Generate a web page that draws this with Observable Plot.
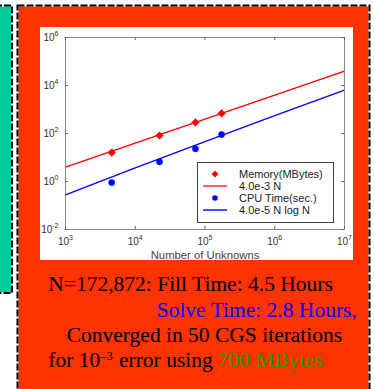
<!DOCTYPE html>
<html><head><meta charset="utf-8">
<script src="https://cdn.jsdelivr.net/npm/d3@7"></script>
<script src="https://cdn.jsdelivr.net/npm/@observablehq/plot@0.6"></script>
<style>
html,body{margin:0;padding:0;background:#fff;}
#page{position:relative;width:374px;height:389px;overflow:hidden;background:#fff;}
#deco{position:absolute;left:0;top:0;}
#panel{position:absolute;left:40px;top:27px;width:313px;height:233px;background:#fff;}
#legend{position:absolute;left:0;top:0;pointer-events:none;}
</style></head><body>
<div id="page">
<svg id="deco" width="374" height="389"></svg>
<div id="panel"></div>
<svg id="legend" width="374" height="389"></svg>
</div>
<script>
// ---- data ----
const N = [4600, 22300, 73000, 172872];
const memoryMB = [16, 83, 290, 690];
const cpuSec = [0.9, 6.6, 23, 91];
const fitN = [1e3, 1e4, 1e5, 1e6, 1e7];
const memFit = [4, 40, 400, 4000, 40000];
const cpuFit = [0.276, 3.68, 46.1, 553, 6447];
const xTicks = [1e3, 1e4, 1e5, 1e6, 1e7];
const yTicks = [1e-2, 1e0, 1e2, 1e4, 1e6];
const legendLabels = ["Memory(MBytes)", "4.0e-3 N", "CPU Time(sec.)", "4.0e-5 N log N"];
const xLabel = "Number of Unknowns";
const captionLines = [
  "N=172,872: Fill Time: 4.5 Hours",
  "Solve Time: 2.8 Hours,",
  "Converged in 50 CGS iterations"
];

const memPts = N.map((n, i) => ({n, v: memoryMB[i]}));
const cpuPts = N.map((n, i) => ({n, v: cpuSec[i]}));
const memLine = fitN.map((n, i) => ({n, v: memFit[i]}));
const cpuLine = fitN.map((n, i) => ({n, v: cpuFit[i]}));

const W = 313, H = 233, mL = 25, mR = 9, mT = 10, mB = 31;
const innerW = W - mL - mR, innerH = H - mT - mB;
const fmt = d => "10^" + Math.round(Math.log10(d));

const chart = Plot.plot({
  width: W, height: H,
  marginLeft: mL, marginRight: mR, marginTop: mT, marginBottom: mB,
  style: {background: "#fff", fontFamily: "'Liberation Sans', Arial, sans-serif", fontSize: "10px", color: "#333"},
  x: {type: "log", domain: [1e3, 1e7]},
  y: {type: "log", domain: [1e-2, 1e6]},
  marks: [
    Plot.line(memLine, {x: "n", y: "v", stroke: "#ff0000", strokeWidth: 1.4}),
    Plot.line(cpuLine, {x: "n", y: "v", stroke: "#0000ff", strokeWidth: 1.4}),
    Plot.dot(memPts, {x: "n", y: "v", symbol: "diamond2", r: 3.4, fill: "#ff0000", stroke: "#ff0000", strokeWidth: 0.6}),
    Plot.dot(cpuPts, {x: "n", y: "v", symbol: "circle", r: 3.1, fill: "#0000ff", stroke: "#0000ff", strokeWidth: 0.5}),
    Plot.frame({stroke: "#8a8a8a"}),
    Plot.tickX(xTicks, {x: d => d, insetTop: innerH - 3, stroke: "#666"}),
    Plot.tickX(xTicks, {x: d => d, insetBottom: innerH - 3, stroke: "#666"}),
    Plot.tickY(yTicks, {y: d => d, insetRight: innerW - 3, stroke: "#666"}),
    Plot.tickY(yTicks, {y: d => d, insetLeft: innerW - 3, stroke: "#666"}),
    Plot.axisX({ticks: xTicks, tickSize: 0, tickPadding: 8, tickFormat: fmt, label: xLabel, labelAnchor: "center", labelArrow: "none", labelOffset: 29.5, color: "#333"}),
    Plot.axisY({ticks: yTicks, tickSize: 0, tickPadding: 7, tickFormat: fmt, label: null, color: "#333"})
  ]
});
document.getElementById("panel").appendChild(chart);

// superscript exponents
const NS = "http://www.w3.org/2000/svg";
chart.querySelectorAll("text").forEach(t => {
  const m = /^10\^(.+)$/.exec(t.textContent);
  if (m) {
    t.textContent = "10";
    const ts = document.createElementNS(NS, "tspan");
    ts.setAttribute("dy", "-5");
    ts.setAttribute("font-size", "7");
    ts.textContent = m[1];
    t.appendChild(ts);
  }
});
chart.querySelectorAll('[aria-label="x-axis label"] text').forEach(t => {
  t.setAttribute("font-size", "11.3"); t.setAttribute("fill", "#444");
});

// decoration
const deco = d3.select("#deco");
deco.append("rect").attr("x", -2).attr("y", 6).attr("width", 13).attr("height", 286).attr("fill", "#00cc99");
const tealPath = "M-5,5.5H12V293H-5";
deco.append("path").attr("d", tealPath).attr("fill", "none").attr("stroke", "#fff").attr("stroke-width", 2);
deco.append("path").attr("d", tealPath).attr("fill", "none").attr("stroke", "#000").attr("stroke-width", 2).attr("stroke-dasharray", "7,2");
deco.append("rect").attr("x", 17.5).attr("y", 5.5).attr("width", 352).attr("height", 420).attr("fill", "#ff3300");
["#fff", "#000"].forEach((c, i) => {
  deco.append("rect").attr("x", 17.5).attr("y", 5.5).attr("width", 352).attr("height", 420)
    .attr("fill", "none").attr("stroke", c).attr("stroke-width", 2).attr("stroke-dasharray", i ? "7,2" : null);
});

const serif = "'Liberation Serif', 'Times New Roman', serif";
const cap = deco.append("g").attr("font-family", serif).attr("font-size", 21.5);
cap.append("text").attr("x", 48.3).attr("y", 290.7).attr("fill", "#000").text(captionLines[0]);
cap.append("text").attr("x", 156.7).attr("y", 317).attr("fill", "#0000ff").text(captionLines[1]);
cap.append("text").attr("x", 66.7).attr("y", 341.7).attr("fill", "#000").text(captionLines[2]);
const l4 = cap.append("text").attr("x", 48.3).attr("y", 366.7).attr("fill", "#000");
l4.append("tspan").text("for 10");
l4.append("tspan").attr("font-size", 12.5).attr("dy", -7).text("\u20133");
l4.append("tspan").attr("x", 119).attr("dy", 7).text("error using ");
l4.append("tspan").attr("fill", "#2b9a00").text("700 MBytes");

// legend
const lg = d3.select("#legend");
lg.append("rect").attr("x", 197.5).attr("y", 162.5).attr("width", 136).attr("height", 60)
  .attr("fill", "#fff").attr("stroke", "#404040");
const rowY = [174, 186, 198, 210];
lg.append("path").attr("d", d3.symbol(d3.symbolDiamond2, 32)()).attr("transform", `translate(215,${rowY[0]})`).attr("fill", "#ff0000");
lg.append("line").attr("x1", 203).attr("x2", 227).attr("y1", rowY[1]).attr("y2", rowY[1]).attr("stroke", "#ff2020").attr("stroke-width", 1.4);
lg.append("circle").attr("cx", 215).attr("cy", rowY[2]).attr("r", 2.8).attr("fill", "#0000ff");
lg.append("line").attr("x1", 203).attr("x2", 227).attr("y1", rowY[3]).attr("y2", rowY[3]).attr("stroke", "#0000ff").attr("stroke-width", 1.4);
lg.selectAll("text.lab").data(legendLabels).join("text").attr("class", "lab")
  .attr("x", 239).attr("y", (d, i) => rowY[i] + 4)
  .attr("font-family", "'Liberation Sans', Arial, sans-serif").attr("font-size", 11).attr("fill", "#222")
  .text(d => d);
</script>
</body></html>
